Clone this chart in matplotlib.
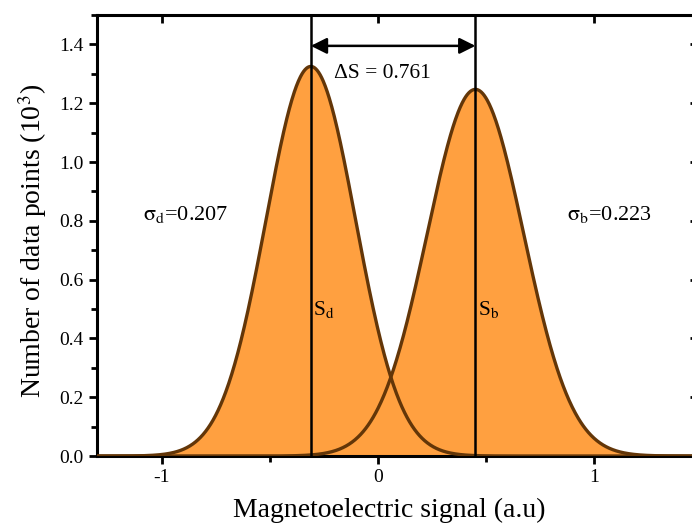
import numpy as np
import matplotlib
matplotlib.use('Agg')
import matplotlib.pyplot as plt
from matplotlib.ticker import MultipleLocator

plt.rcParams['font.family'] = ['Liberation Serif', 'DejaVu Serif']
plt.rcParams['mathtext.fontset'] = 'stix'

# Gaussian fit parameters
names = ['d', 'b']
centers = [-0.311, 0.450]
sigmas = [0.207, 0.223]
peaks = [1.325, 1.247]
delta_s = 0.761

x_ticks = [-1, 0, 1]
y_ticks = [0.0, 0.2, 0.4, 0.6, 0.8, 1.0, 1.2, 1.4]

fill_col = '#FFA040'
fit_col = '#633608'

fig = plt.figure(figsize=(6.92, 5.26), dpi=100)
ax = fig.add_axes([0.140, 0.133, 0.869, 0.8385])

x = np.linspace(-1.3, 1.5, 1200)
for c, s, p in zip(centers, sigmas, peaks):
    y = p * np.exp(-0.5 * ((x - c) / s) ** 2)
    ax.fill_between(x, 0, y, color=fill_col, lw=0, zorder=1)
    ax.plot(x, y, color=fit_col, lw=2.4, zorder=3)

for c, n in zip(centers, names):
    ax.axvline(c, color='black', lw=1.8, zorder=4)
    ax.text(c + 0.012, 0.50, r'S$_{\mathrm{%s}}$' % n, fontsize=15.5, ha='left', va='center')

ax.annotate('', xy=(centers[1], 1.395), xytext=(centers[0], 1.395),
            arrowprops=dict(arrowstyle='<|-|>', color='black', lw=1.8,
                            mutation_scale=24, shrinkA=0, shrinkB=0), zorder=5)
ax.text(-0.205, 1.30, 'ΔS = %.3f' % delta_s, fontsize=15.5, ha='left', va='center')

ax.text(-1.085, 0.82, r'$\mathrm{σ}_{\mathrm{d}}$=%.3f' % sigmas[0], fontsize=16, ha='left', va='center')
ax.text(0.875, 0.82, r'$\mathrm{σ}_{\mathrm{b}}$=%.3f' % sigmas[1], fontsize=16, ha='left', va='center')

ax.set_xlim(-1.3, 1.48)
ax.set_ylim(0, 1.5)
ax.set_xticks(x_ticks)
ax.set_xticklabels([str(t) for t in x_ticks])
ax.set_yticks(y_ticks)
ax.set_yticklabels(['%.1f' % t for t in y_ticks])
ax.xaxis.set_minor_locator(MultipleLocator(0.5))
ax.yaxis.set_minor_locator(MultipleLocator(0.1))

for sp in ax.spines.values():
    sp.set_linewidth(2.2)
ax.tick_params(which='major', direction='out', length=6, width=2, labelsize=14)
ax.tick_params(which='minor', direction='out', length=4, width=2)

# inward major ticks on the top and right
axt = ax.secondary_xaxis('top')
axt.set_xticks(x_ticks)
axt.tick_params(direction='in', length=6, width=2, labeltop=False)
axr = ax.secondary_yaxis('right')
axr.set_yticks(y_ticks)
axr.tick_params(direction='in', length=6, width=2, labelright=False)

ax.set_xlabel('Magnetoelectric signal (a.u)', fontsize=20)
ax.set_ylabel(r'Number of data points (10$^3$)', fontsize=20)
ax.xaxis.set_label_coords(0.486, -0.095)
ax.yaxis.set_label_coords(-0.080, 0.4875)

fig.savefig('out.png', dpi=100)
